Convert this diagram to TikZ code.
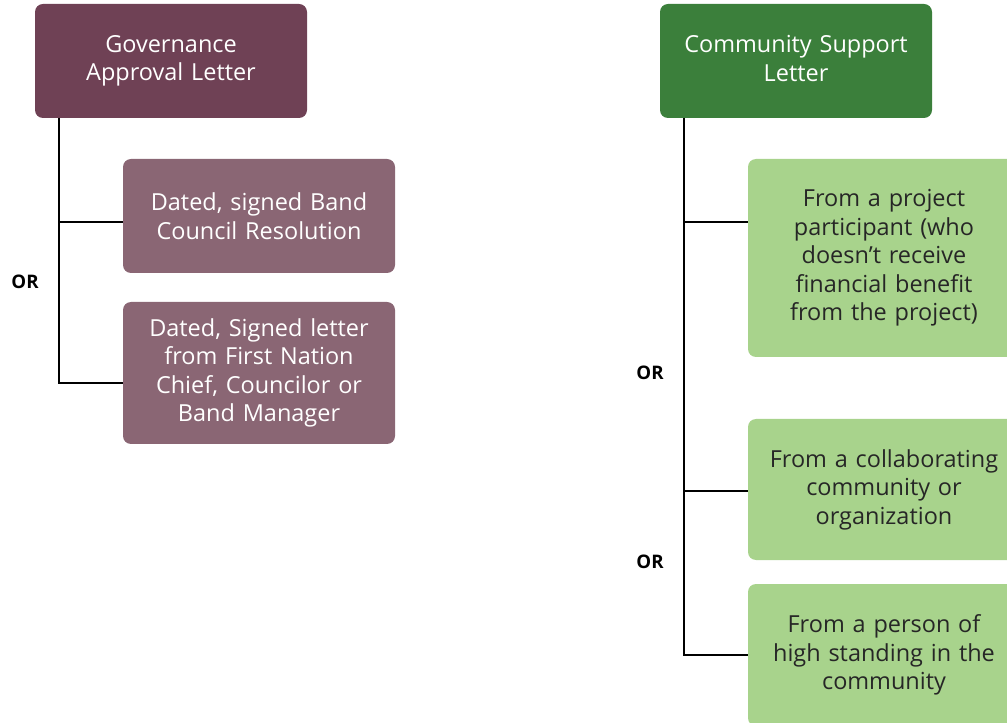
\documentclass[tikz,border=0pt]{standalone}
\usepackage{fontspec}
\setmainfont{Open Sans}
\usetikzlibrary{positioning}

\definecolor{govdark}{HTML}{6F4155}
\definecolor{govlight}{HTML}{8A6674}
\definecolor{comdark}{HTML}{3B7F3B}
\definecolor{comlight}{HTML}{A8D38C}
\definecolor{comtext}{HTML}{262626}

\begin{document}
\begin{tikzpicture}[
    head/.style={rectangle, rounded corners=6pt, minimum width=204pt, minimum height=85.5pt,
                 text width=196pt, align=center, text=white, inner sep=0pt, outer sep=0pt,
                 font=\fontsize{17.6}{21.4}\selectfont},
    govsub/.style={head, fill=govlight},
    comsub/.style={head, fill=comlight, text=comtext},
    link/.style={draw=black, line width=1.3pt},
    orlabel/.style={font=\fontsize{14}{16}\selectfont\bfseries}
]
\clip (0,0) rectangle (755.25pt,-542.25pt);
\useasboundingbox (0,0) rectangle (755.25pt,-542.25pt);

% Main letters
\node[head, fill=govdark, anchor=north west] (gov) at (26.25pt,-3pt) {Governance\\Approval Letter};
\node[head, fill=comdark, right=264.75pt of gov] (comm) {Community Support\\Letter\vphantom{p}};

% Governance options
\node[govsub, below right=30.75pt and 66pt of gov.south west] (bcr) {Dated, signed Band\\Council Resolution};
\node[govsub, below=21.75pt of bcr, minimum height=106.5pt] (chief) {Dated, Signed letter\\from First Nation\\Chief, Councilor or\\Band Manager};

% Community options
\node[comsub, below right=30.75pt and 66pt of comm.south west, minimum height=148.5pt] (participant) {From a project\\participant (who\\doesn't receive\\financial benefit\\from the project)};
\node[comsub, below=46.5pt of participant, minimum height=105.75pt] (collab) {From a collaborating\\community or\\organization};
\node[comsub, below=18pt of collab, minimum height=106.5pt] (standing) {From a person of\\high standing in the\\community};

% Connectors
\draw[link] ([xshift=18pt]gov.south west) |- ([yshift=-4.5pt]bcr.west);
\draw[link] ([xshift=18pt]gov.south west) |- ([yshift=-7.5pt]chief.west);
\draw[link] ([xshift=18pt]comm.south west) |- ([yshift=27pt]participant.west);
\draw[link] ([xshift=18pt]comm.south west) |- ([yshift=-1pt]collab.west);
\draw[link] ([xshift=18pt]comm.south west) |- (standing.west);

% OR labels
\node[orlabel] (or1) at (18.75pt,-211.5pt) {OR};
\node[orlabel] (or2) at (487.5pt,-279.75pt) {OR};
\node[orlabel] (or3) at (487.5pt,-421.5pt) {OR};

\end{tikzpicture}
\end{document}
